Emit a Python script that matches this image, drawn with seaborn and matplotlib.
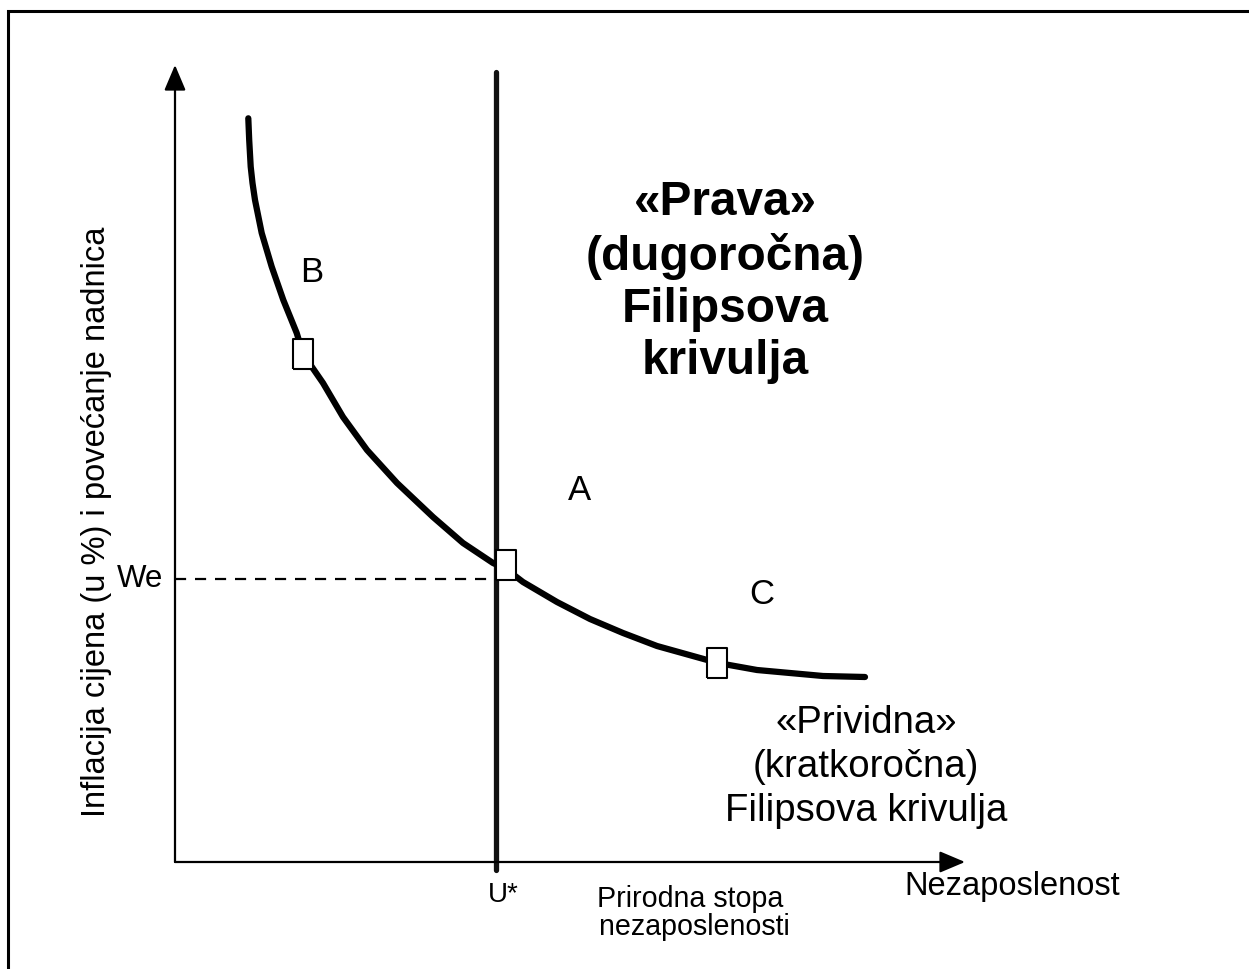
import numpy as np
import pandas as pd
import matplotlib
matplotlib.use("Agg")
import matplotlib.pyplot as plt
import seaborn as sns
from matplotlib.patches import Rectangle

# ---- data (abstract units: unemployment vs inflation) ----
curve_u = [0.733, 0.742, 0.757, 0.775, 0.80, 0.867, 0.967, 1.083, 1.217, 1.28, 1.48,
           1.68, 1.92, 2.22, 2.58, 2.88, 3.18, 3.31, 3.48, 3.82, 4.15, 4.48, 4.82,
           5.43, 5.82, 6.15, 6.48, 6.90]
curve_pi = [7.437, 7.22, 6.953, 6.79, 6.62, 6.29, 5.953, 5.62, 5.29, 5.08, 4.79,
            4.45, 4.12, 3.79, 3.45, 3.19, 2.99, 2.93, 2.80, 2.60, 2.43, 2.29, 2.16,
            1.99, 1.92, 1.89, 1.86, 1.85]
point_labels = ["B", "A", "C"]
point_u = [1.28, 3.31, 5.42]
point_pi = [5.08, 2.97, 1.99]
u_star = 3.21
we_level = 2.83
long_run_pi = [-0.08, 7.90]
label_u = [1.37, 4.05, 5.87]
label_pi = [5.90, 3.71, 2.67]

sns.set_theme(style="white")
plt.rcParams['font.family'] = ['Liberation Sans', 'DejaVu Sans']
plt.rcParams['text.color'] = 'black'

fig = plt.figure(figsize=(12.49, 9.69), dpi=100)
ax = fig.add_axes([0, 0, 1, 1])
ax.set_xlim(-1.75, 10.74)
ax.set_ylim(-1.07, 8.62)
ax.axis("off")

# border
fig.patches.append(Rectangle((8 / 1249, -0.1), 1.2, 1 - 11 / 969 + 0.1,
                             transform=fig.transFigure, fill=False,
                             edgecolor="black", linewidth=2.2))

# axes with arrows
ax.annotate("", xy=(0, 7.97), xytext=(0, 0),
            arrowprops=dict(arrowstyle="-|>,head_length=1.3,head_width=0.55",
                            color="black", lw=1.6, shrinkA=0, shrinkB=0))
ax.annotate("", xy=(7.90, 0), xytext=(0, 0),
            arrowprops=dict(arrowstyle="-|>,head_length=1.3,head_width=0.55",
                            color="black", lw=1.6, shrinkA=0, shrinkB=0))

# long-run vertical Phillips curve
lr = pd.DataFrame({"u": [u_star, u_star], "pi": long_run_pi})
sns.lineplot(data=lr, x="u", y="pi", ax=ax, color="#111111", linewidth=3.8,
             sort=False, estimator=None, errorbar=None, solid_capstyle="round")

# dashed We line
we = pd.DataFrame({"u": [0, u_star], "pi": [we_level, we_level]})
sns.lineplot(data=we, x="u", y="pi", ax=ax, color="black", linewidth=1.6,
             linestyle=(0, (5, 4)), sort=False, estimator=None, errorbar=None)

# short-run curve
sr = pd.DataFrame({"u": curve_u, "pi": curve_pi})
sns.lineplot(data=sr, x="u", y="pi", ax=ax, color="black", linewidth=4.5,
             sort=False, estimator=None, errorbar=None,
             solid_capstyle="round", solid_joinstyle="round")

# rectangular markers
rect_marker = [(-0.33, -0.5), (0.33, -0.5), (0.33, 0.5), (-0.33, 0.5), (-0.33, -0.5)]
ax.plot(point_u, point_pi, linestyle="none", marker=rect_marker, markersize=21,
        markerfacecolor="white", markeredgecolor="black", markeredgewidth=1.5, zorder=5)

for lab, x, y in zip(point_labels, label_u, label_pi):
    ax.text(x, y, lab, ha="center", va="center", fontsize=25)

ax.text(-0.35, we_level, "We", ha="center", va="center", fontsize=22.5)
ax.text(3.28, -0.33, "U*", ha="center", va="center", fontsize=20)
ax.text(5.15, -0.51, "Prirodna stopa\n nezaposlenosti", ha="center", va="center",
        fontsize=20.6, linespacing=1.03)
ax.text(8.37, -0.24, "Nezaposlenost", ha="center", va="center", fontsize=23.5)
ax.text(-0.78, 3.40, "Inflacija cijena (u %) i povećanje nadnica", ha="center",
        va="center", rotation=90, fontsize=23.5)

ax.text(5.50, 5.80, "«Prava»\n(dugoročna)\nFilipsova\nkrivulja", ha="center",
        va="center", fontsize=34.4, fontweight="bold", linespacing=1.21)
ax.text(6.91, 0.95, "«Prividna»\n(kratkoročna)\nFilipsova krivulja", ha="center",
        va="center", fontsize=27.6, linespacing=1.29)

fig.savefig("out.png", dpi=100, facecolor="white")
